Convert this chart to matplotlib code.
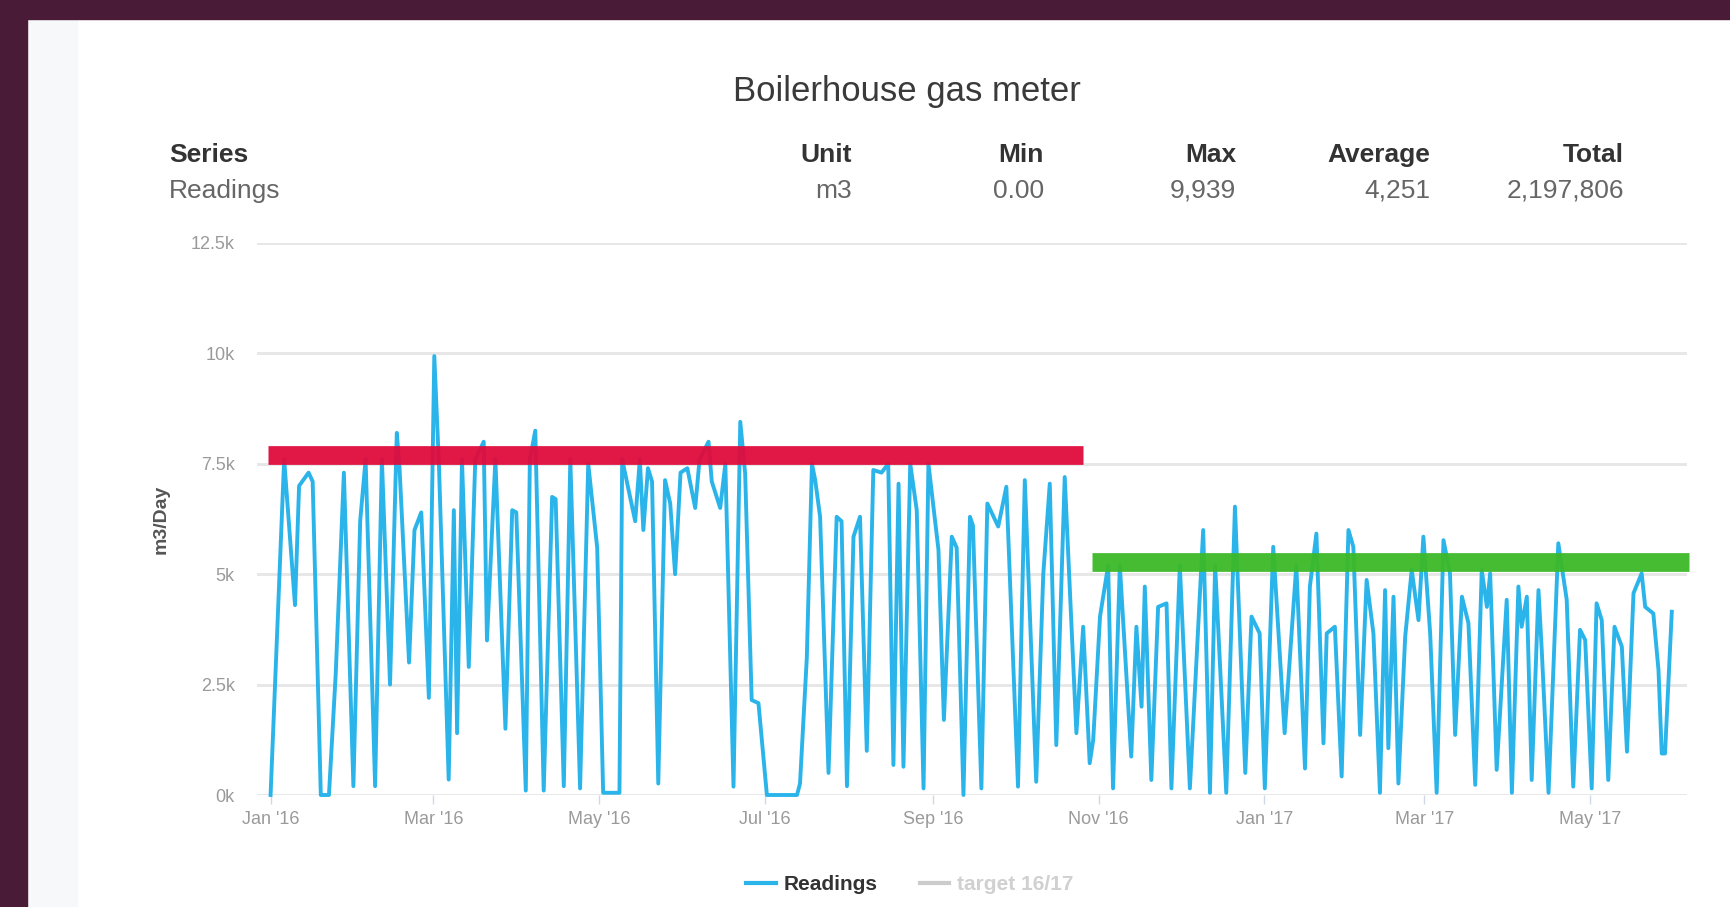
import pandas as pd
import matplotlib
matplotlib.use("Agg")
import matplotlib.pyplot as plt
import matplotlib.dates as mdates
from matplotlib.lines import Line2D
from matplotlib.patches import Rectangle

plt.rcParams['font.family'] = ['Liberation Sans', 'DejaVu Sans']

# Tagesverbrauch (Tage ab 1. Jan 2016, m3/Tag)
start = pd.Timestamp("2016-01-01")
reading_days = [
    0, 5, 9, 10.5, 14, 15.5, 18.5, 21.5, 24, 27, 30.5, 33, 35, 38.5, 41, 44,
    46.5, 47.5, 51, 53, 55.5, 58.3, 60.3, 62, 65.6, 67.5, 68.7, 70.5, 73, 75.4,
    78.5, 79.7, 82.8, 86.5, 89, 90.5, 94, 95.5, 97.5, 100.6, 103.7, 105, 108,
    110.4, 114, 117, 120.3, 122.5, 128.5, 129.5, 134.3, 136, 137.3, 139, 140.5,
    142.8, 145.3, 147.2, 149, 151, 153.5, 156.4, 158, 161.3, 162.5, 165.6,
    167.5, 170.5, 173, 174.8, 177.2, 179.7, 182.8, 193.9, 195, 197.5, 199.4,
    200.6, 202.4, 205.5, 208.5, 210.3, 212.3, 214.7, 217.1, 219.6, 222, 225,
    227.5, 229.4, 231.3, 233.1, 235.6, 238, 240.5, 242.3, 246, 248, 250.9,
    252.7, 255.2, 257.6, 258.7, 261.8, 264, 268, 271, 275.3, 277.8, 282, 284.6,
    287, 289.4, 292.5, 296.8, 299.3, 301.7, 303, 305.5, 308.5, 310.3, 312.8,
    317, 318.9, 320.8, 322, 324.4, 326.9, 330, 331.8, 334.9, 338.6, 343.5, 346,
    347.9, 352, 355.2, 359, 361.3, 364.3, 366.2, 369.3, 373.5, 377.8, 381,
    382.8, 385.2, 387.8, 389, 392, 394.5, 397, 398.8, 401.3, 403.7, 406.2,
    408.6, 410.5, 411.7, 413.6, 415.4, 417.9, 420.3, 422.8, 424.6, 427.1,
    429.5, 432, 434.4, 436.3, 438.8, 441.2, 443.7, 446.1, 448, 449.2, 451.6,
    455.3, 457.2, 459.6, 460.8, 462.7, 464.5, 467, 468.2, 470.7, 474.3, 477.4,
    479.8, 482.3, 484.2, 486.6, 488.4, 490.3, 492.7, 495, 497.7, 499.6, 502,
    505, 506.3, 509.3, 511.2, 512.4, 513.6, 516.1,
]
reading_m3 = [
    0, 7600, 4300, 7000, 7300, 7100, 0, 0, 2750, 7300, 200, 6200, 7600, 200,
    7600, 2500, 8200, 7400, 3000, 6000, 6400, 2200, 9939, 7500, 350, 6450,
    1400, 7600, 2900, 7600, 8000, 3500, 7600, 1500, 6450, 6400, 100, 7600,
    8250, 100, 6750, 6700, 200, 7600, 150, 7500, 5600, 50, 50, 7600, 6200,
    7600, 6000, 7400, 7100, 260, 7130, 6600, 5000, 7300, 7400, 6500, 7600,
    8000, 7100, 6500, 7500, 190, 8450, 7280, 2150, 2080, 0, 0, 260, 3100,
    7500, 7130, 6300, 500, 6300, 6200, 200, 5850, 6300, 1000, 7360, 7300,
    7500, 680, 7050, 640, 7500, 6450, 150, 7500, 5550, 1700, 5850, 5600, 0,
    6300, 6100, 150, 6600, 6080, 6980, 190, 7130, 300, 5000, 7050, 1130, 7200,
    1400, 3810, 720, 1250, 4040, 5200, 150, 5200, 870, 3810, 2000, 4720, 340,
    4260, 4340, 150, 5200, 150, 6000, 50, 5200, 50, 6530, 500, 4040, 3660,
    150, 5620, 1400, 5200, 600, 4720, 5920, 1170, 3660, 3810, 420, 6000, 5620,
    1360, 4870, 3660, 50, 4640, 1060, 4490, 260, 3580, 5100, 3960, 5850, 3660,
    50, 5770, 5020, 1360, 4490, 3890, 230, 5090, 4260, 5020, 570, 4420, 50,
    4720, 3810, 4490, 340, 4640, 3280, 50, 5700, 4420, 190, 3740, 3510, 150,
    4340, 3960, 340, 3810, 3360, 980, 4570, 5020, 4260, 4110, 2830, 940, 940,
    4150,
]

# Zielbaender (handgezeichnet)
red_days = [-1, 299.3]
red_value = 7690
green_days = [302.6, 522.6]
green_value = 5275

y_ticks = [0, 2500, 5000, 7500, 10000, 12500]
y_tick_labels = ["0k", "2.5k", "5k", "7.5k", "10k", "12.5k"]

stat_headers = ["Unit", "Min", "Max", "Average", "Total"]
stat_values = ["m3", "0.00", "9,939", "4,251", "2,197,806"]
stat_right_px = [852, 1044, 1236, 1430, 1624]

W, H = 1731, 907
fig = plt.figure(figsize=(W / 100, H / 100), dpi=100)
fig.patch.set_facecolor("white")

# Rahmen der Bildschirmaufnahme
fig.add_artist(Rectangle((27 / W, 0), 50 / W, 1 - 19 / H, transform=fig.transFigure,
                         color="#f7f8fa", zorder=0))
fig.add_artist(Rectangle((0, 1 - 19 / H), 1, 19 / H, transform=fig.transFigure,
                         color="#4a1b36", zorder=0))
fig.add_artist(Rectangle((0, 0), 27 / W, 1, transform=fig.transFigure,
                         color="#4a1b36", zorder=0))

ax = fig.add_axes([257 / W, 1 - 795 / H, (1687 - 257) / W, 552 / H])
ax.set_facecolor("none")

dates = start + pd.to_timedelta(reading_days, unit="D")
ax.plot(dates, reading_m3, color="#2ab4ea", lw=2.8, zorder=3, clip_on=False,
        solid_joinstyle="round")

red_x = start + pd.to_timedelta(red_days, unit="D")
green_x = start + pd.to_timedelta(green_days, unit="D")
ax.plot(red_x, [red_value] * 2, color="#e00a3c", lw=13.5, solid_capstyle="butt",
        alpha=0.95, zorder=4, clip_on=False)
ax.plot(green_x, [green_value] * 2, color="#3cb928", lw=13.5, solid_capstyle="butt",
        alpha=0.95, zorder=4, clip_on=False)

ax.set_ylim(0, 12500)
ax.set_xlim(start - pd.Timedelta(days=5), start + pd.Timedelta(days=521.7))
ax.set_yticks(y_ticks)
ax.set_yticklabels(y_tick_labels)
ax.yaxis.grid(True, color="#e6e6e6", lw=2)
ax.set_axisbelow(True)
for s in ax.spines.values():
    s.set_visible(False)

ax.xaxis.set_major_locator(mdates.MonthLocator(bymonth=[1, 3, 5, 7, 9, 11]))
ax.xaxis.set_major_formatter(mdates.DateFormatter("%b '%y"))
ax.tick_params(axis="x", length=6.5, width=1, color="#d0d8e8", pad=5,
               labelsize=13, labelcolor="#9a9a9a")
ax.tick_params(axis="y", length=0, pad=16, labelsize=13, labelcolor="#9a9a9a")
ax.set_ylabel("m3/Day", fontsize=14, color="#555555", fontweight="bold", labelpad=15)

# Titel und Statistik-Kopf
fig.text(907 / W, 1 - 92 / H, "Boilerhouse gas meter", ha="center", va="center",
         fontsize=25, color="#3a3a3a")
fig.text(169 / W, 1 - 155 / H, "Series", ha="left", va="center", fontsize=19,
         fontweight="bold", color="#333333")
fig.text(169 / W, 1 - 191 / H, "Readings", ha="left", va="center", fontsize=19,
         color="#666666")
for head, val, xr in zip(stat_headers, stat_values, stat_right_px):
    fig.text(xr / W, 1 - 155 / H, head, ha="right", va="center", fontsize=19,
             fontweight="bold", color="#333333")
    fig.text(xr / W, 1 - 191 / H, val, ha="right", va="center", fontsize=19,
             color="#666666")

handles = [Line2D([], [], color="#2ab4ea", lw=3),
           Line2D([], [], color="#cccccc", lw=3)]
fig.legend(handles, ["Readings", "target 16/17"], loc="center",
           bbox_to_anchor=(910 / W, 1 - 885 / H), ncol=2, frameon=False,
           handlelength=1.4, columnspacing=2.0, handletextpad=0.4,
           prop={"size": 15, "weight": "bold"},
           labelcolor=["#333333", "#d0d0d0"])

fig.savefig("out.png", dpi=100)
